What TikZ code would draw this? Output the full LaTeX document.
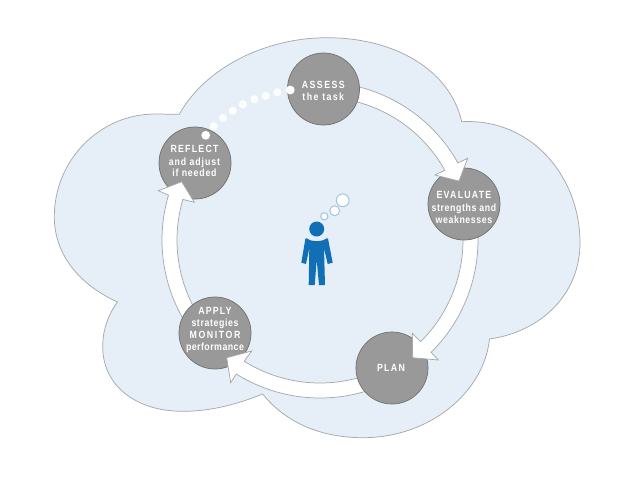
\documentclass[tikz,border=0pt]{standalone}
\usepackage{fontspec}
\setmainfont{Liberation Sans}[FakeStretch=.846]
\newcommand{\tr}[2]{{\addfontfeature{LetterSpace=#1}#2}}
\newcommand{\blockarrow}[5]{%
  \path[ringarrow] plot[domain=#1:#2,samples=40] ({320+158*cos(\x)},{240+158*sin(\x)})
    -- #3 -- #4 -- #5 --
    plot[domain=#2:#1,samples=40] ({320+143*cos(\x)},{240+143*sin(\x)}) -- cycle;}
\definecolor{cloudfill}{HTML}{E6EFF7}
\definecolor{cloudline}{HTML}{A6A8AA}
\definecolor{discfill}{HTML}{999999}
\definecolor{discline}{HTML}{727272}
\definecolor{personblue}{HTML}{1170B5}
\definecolor{bubbleline}{HTML}{9CC5E3}
\tikzset{
  cloudshape/.style={fill=cloudfill,draw=cloudline,line width=.55pt,line join=miter},
  ringarrow/.style={fill=white,draw=cloudline,line width=.55pt,line join=miter},
  disc/.style={circle,fill=discfill,draw=discline,line width=.55pt,minimum size=54pt,inner sep=0pt},
  disctext/.style={text=white,align=center,inner sep=0pt,font=\fontsize{7.8}{9.5}\selectfont\bfseries},
  dot/.style={circle,fill=white,inner sep=0pt,minimum size=6.2pt},
  bubble/.style={circle,fill=white,draw=bubbleline,line width=.75pt,inner sep=0pt},
}
\begin{document}
\begin{tikzpicture}[x=.75pt,y=-.75pt]
\useasboundingbox (0,0) rectangle (640,480);
\fill[white] (0,0) rectangle (640,480);
% cloud
\path[cloudshape] (179.3,114.3)
  .. controls (205,68) and (265,37.7) .. (327,37.7)
  .. controls (395,37.7) and (450,70) .. (461.7,121.7)
  .. controls (530,118) and (580,175) .. (580,243)
  .. controls (580,295) and (540,332) .. (489.5,339)
  .. controls (484,392) and (430,437.7) .. (363,437.7)
  .. controls (320,437.7) and (285,422) .. (262.7,394)
  .. controls (235,405) and (210,411.3) .. (183,411.3)
  .. controls (135,411.3) and (102.7,385) .. (102.7,346.7)
  .. controls (102.7,330) and (108,315) .. (117.5,302)
  .. controls (80,285) and (54.3,255) .. (54.3,216.7)
  .. controls (54.3,160) and (100,114) .. (155,114)
  -- cycle;
% cycle
\node[disc] (reflect) at (195,163) {};
\blockarrow{148}{196.5}{(158.3,190.7)}{(181.7,181.7)}{(194.3,202.3)}
\node[disc] (apply) at (215,333) {};
\blockarrow{70}{122}{(230.7,382.7)}{(226.7,357.7)}{(251.7,351)}
\node[disc] (plan) at (392,368) {};
\blockarrow{-5}{45.3}{(438.3,360)}{(412.7,357.7)}{(412.3,333.3)}
\node[disc] (evaluate) at (464,204) {};
\blockarrow{-85}{-29.2}{(467.7,158.3)}{(459,181)}{(435,175)}
\node[disc] (assess) at (323.5,89) {};
% labels
\node[disctext] (assessT) at (323.3,90.8) {\tr{14}{ASSESS}\\\tr{13.5}{the task}};
\node[disctext] (evaluateT) at (464,207.5) {\tr{11.8}{EVALUATE}\\\tr{5.6}{strengths and}\\\tr{5.6}{weaknesses}};
\node[disctext] (planT) at (391,368.3) {\tr{12.7}{PLAN}};
\node[disctext] (applyT) at (215,329.7) {\tr{11.3}{APPLY}\\[-.4pt]\tr{5.8}{strategies}\\[-.6pt]\tr{15}{MONITOR}\\[-.6pt]\tr{4.5}{performance}};
\node[disctext] (reflectT) at (194.5,161) {\tr{11.8}{REFLECT}\\[-.2pt]\tr{8.5}{and adjust}\\[-1.4pt]\tr{7.6}{if needed}};
% dots
\foreach \n/\px/\py in {1/277.3/92.3,2/265.7/95.7,3/254.3/99.3,4/243/104.3,5/232.7/110.7,6/223/118,7/213.7/126.3}
  \node[dot,fill opacity=.88] (dot\n) at (\px,\py) {};
\node[dot,minimum size=6.6pt] (dotA) at (290.3,90) {};
\node[dot,minimum size=6.6pt] (dotB) at (205.7,135.3) {};
% person
\fill[personblue] (316.7,229) circle[radius=7.5];
\fill[personblue] (306.7,238.3) .. controls (310,240.5) and (313,241.2) .. (316.7,241.2)
  .. controls (320.4,241.2) and (323.4,240.5) .. (326.7,238.3)
  -- (328,238.6) -- (332.7,262.7) -- (327.7,264) -- (324,248.3) -- (325,285) -- (319,285) -- (316.7,260)
  -- (314.7,285) -- (308.7,285) -- (309.3,248.3) -- (306,264) -- (301.3,262.7) -- (305.4,238.6) -- cycle;
\node[bubble,minimum size=5.4pt] (b1) at (324.3,216.3) {};
\node[bubble,minimum size=7.4pt] (b2) at (334.7,210.7) {};
\node[bubble,minimum size=9.6pt] (b3) at (342.7,200.3) {};
\end{tikzpicture}
\end{document}
